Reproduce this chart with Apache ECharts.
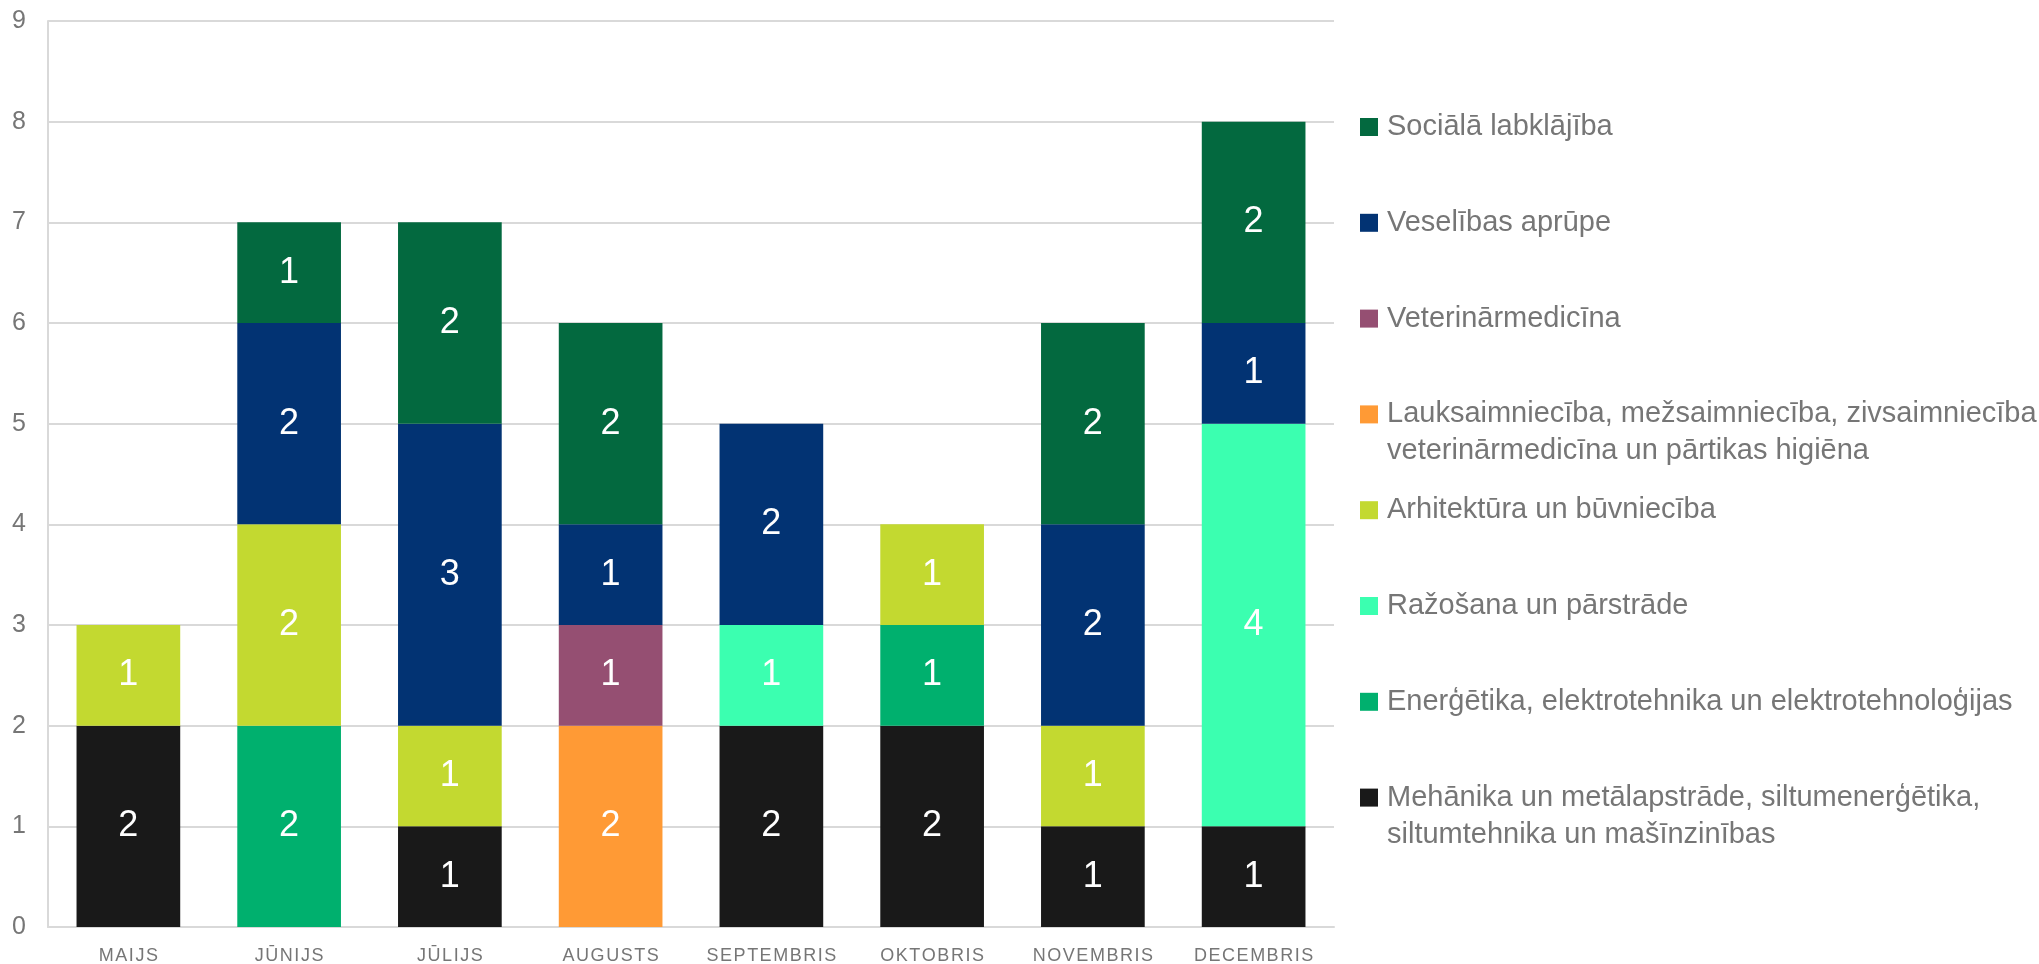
<!DOCTYPE html>
<html>
<head>
<meta charset="utf-8">
<title>Chart</title>
<script src="https://cdn.jsdelivr.net/npm/echarts@6.0.0/dist/echarts.min.js"></script>
<style>
    html, body {margin: 0; padding: 0; background: #fff;}
    #chart {width: 2039px; height: 964px;}
</style>
</head>
<body>
<div id="chart"></div>
<script>
// dati
var months = ['MAIJS', 'JŪNIJS', 'JŪLIJS', 'AUGUSTS', 'SEPTEMBRIS', 'OKTOBRIS', 'NOVEMBRIS', 'DECEMBRIS'];
var yTicks = [0, 1, 2, 3, 4, 5, 6, 7, 8, 9];

var mehanika = [2, null, 1, null, 2, 2, 1, 1];
var energetika = [null, 2, null, null, null, 1, null, null];
var razosana = [null, null, null, null, 1, null, null, 4];
var arhitektura = [1, 2, 1, null, null, 1, 1, null];
var lauksaimnieciba = [null, null, null, 2, null, null, null, null];
var veterinarmedicina = [null, null, null, 1, null, null, null, null];
var veseliba = [null, 2, 3, 1, 2, null, 2, 1];
var socialaLabklajiba = [null, 1, 2, 2, null, null, 2, 2];

// no apakšas uz augšu
var seriesNames = [
    'Mehānika un metālapstrāde, siltumenerģētika, siltumtehnika un mašīnzinības',
    'Enerģētika, elektrotehnika un elektrotehnoloģijas',
    'Ražošana un pārstrāde',
    'Arhitektūra un būvniecība',
    'Lauksaimniecība, mežsaimniecība, zivsaimniecība, veterinārmedicīna un pārtikas higiēna',
    'Veterinārmedicīna',
    'Veselības aprūpe',
    'Sociālā labklājība'
];
var seriesData = [mehanika, energetika, razosana, arhitektura, lauksaimnieciba, veterinarmedicina, veseliba, socialaLabklajiba];
var colors = ['#191919', '#00B06E', '#3BFFB0', '#C3D930', '#FF9A35', '#954F72', '#023373', '#03693F'];

var FONT = 'Liberation Sans, Arial, sans-serif';
var GRAY = '#767676';

function wrapName(name) {
    return name.replace('zivsaimniecība, ', 'zivsaimniecība,\n')
        .replace('siltumenerģētika, ', 'siltumenerģētika,\n');
}

var myChart = echarts.init(document.getElementById('chart'));

var series = [];
for (var i = 0; i < seriesNames.length; i++) {
    series.push({
        name: seriesNames[i],
        type: 'bar',
        stack: 'total',
        barCategoryGap: '35.5%',
        itemStyle: {color: colors[i]},
        label: {
            show: true,
            position: 'inside',
            color: '#fff',
            fontFamily: FONT,
            fontSize: 36
        },
        data: seriesData[i]
    });
}

// katrs leģendas ieraksts atsevišķi, lai rindas sakristu ar oriģinālu
var legends = [];
var order = seriesNames.slice().reverse();
for (var k = 0; k < order.length; k++) {
    var twoLine = wrapName(order[k]) !== order[k];
    var center = 127 + 95.8 * k;
    legends.push({
        orient: 'vertical',
        left: 1360,
        top: twoLine ? center - 55.5 : center - 18.5,
        padding: 0,
        icon: 'rect',
        itemWidth: 18,
        itemHeight: 18,
        // tukša rinda augšā, lai ikona būtu pretī pirmajai rindai
        formatter: function (name) {
            var t = wrapName(name);
            return t !== name ? '\n' + t : t;
        },
        textStyle: {
            color: GRAY,
            fontFamily: FONT,
            fontSize: 29,
            lineHeight: 37,
            padding: [0, 0, 0, 4]
        },
        data: [order[k]]
    });
}

var option = {
    backgroundColor: '#fff',
    animation: false,
    grid: {
        left: 48,
        right: 705,
        top: 21,
        bottom: 37,
        containLabel: false,
        outerBoundsMode: 'none'
    },
    legend: legends,
    xAxis: {
        type: 'category',
        data: months,
        axisLine: {lineStyle: {color: '#D9D9D9', width: 2}},
        axisTick: {show: false},
        axisLabel: {
            interval: 0,
            color: GRAY,
            fontFamily: FONT,
            fontSize: 18,
            margin: 20,
            formatter: function (v) {
                return v.split('').join('\u200A');
            }
        }
    },
    yAxis: {
        type: 'value',
        min: yTicks[0],
        max: yTicks[yTicks.length - 1],
        interval: 1,
        axisLine: {show: true, lineStyle: {color: '#D9D9D9', width: 2}},
        axisTick: {show: false},
        splitLine: {lineStyle: {color: '#D9D9D9', width: 2}},
        axisLabel: {
            color: GRAY,
            fontFamily: FONT,
            fontSize: 25,
            margin: 22
        }
    },
    series: series
};

myChart.setOption(option);
window.addEventListener('resize', function () {
    myChart.resize();
});
</script>
</body>
</html>
